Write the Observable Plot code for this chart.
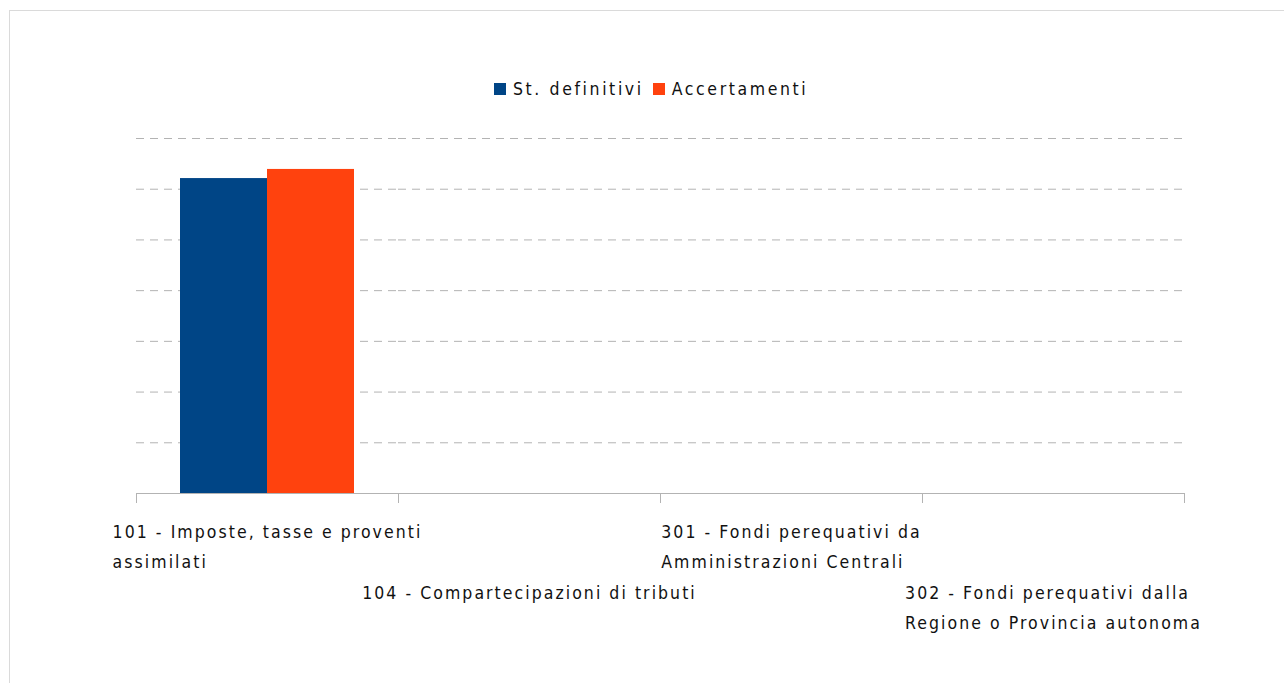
<!DOCTYPE html>
<html>
<head>
<meta charset="utf-8">
<script src="https://cdn.jsdelivr.net/npm/d3@7"></script>
<script src="https://cdn.jsdelivr.net/npm/@observablehq/plot@0.6"></script>
<style>
  html, body { margin: 0; padding: 0; background: #fff; }
  #page { position: relative; width: 1284px; height: 683px; overflow: hidden; font-family: "DejaVu Sans Condensed", "DejaVu Sans", sans-serif; }
  #frame { position: absolute; left: 9px; top: 10px; width: 1290px; height: 700px; border-left: 1px solid #dadada; border-top: 1px solid #dadada; }
  #legend { position: absolute; top: 79px; left: 494px; display: flex; align-items: center; font-size: 17.5px; color: #111; white-space: nowrap; letter-spacing: 2.6px; }
  #legend .sw { display: inline-block; width: 12px; height: 12px; margin-right: 7px; }
  #legend .item { display: flex; align-items: center; margin-right: 9px; }
  #chart { position: absolute; left: 0; top: 110px; }
</style>
</head>
<body>
<div id="page">
  <div id="frame"></div>
  <div id="legend"></div>
  <div id="chart"></div>
</div>
<script>
// ---- data ----
const categories = ["101", "104", "301", "302"];
const categoryLabels = [
  "101 - Imposte, tasse e proventi\nassimilati",
  "104 - Compartecipazioni di tributi",
  "301 - Fondi perequativi da\nAmministrazioni Centrali",
  "302 - Fondi perequativi dalla\nRegione o Provincia autonoma"
];
const labelRows = [0, 1, 0, 1];
const series = ["St. definitivi", "Accertamenti"];
const seriesColors = ["#004586", "#ff420e"];
const stDefinitivi = [6.21, 0, 0, 0];
const accertamenti = [6.39, 0, 0, 0];
const gridTicks = [1, 2, 3, 4, 5, 6, 7];

const seriesValues = [stDefinitivi, accertamenti];
const data = categories.flatMap((c, i) =>
  series.map((s, j) => ({category: c, series: s, value: seriesValues[j][i]}))
);
const labelData = categories.map((c, i) => ({category: c, label: categoryLabels[i], row: labelRows[i]}));

// ---- legend ----
const legend = document.getElementById("legend");
series.forEach((s, j) => {
  const item = document.createElement("span");
  item.className = "item";
  const sw = document.createElement("span");
  sw.className = "sw";
  sw.style.background = seriesColors[j];
  item.appendChild(sw);
  item.appendChild(document.createTextNode(s));
  legend.appendChild(item);
});

// ---- chart ----
const fontFamily = "'DejaVu Sans Condensed', 'DejaVu Sans', sans-serif";
const labelStyle = {
  fx: "category", text: "label", frameAnchor: "bottom", lineAnchor: "top",
  textAnchor: "start", fontSize: 17.5, lineHeight: 1.73, fill: "#111", fontFamily
};
const plot = Plot.plot({
  width: 1284,
  height: 573,
  marginLeft: 134,
  marginRight: 99,
  marginTop: 28,
  marginBottom: 190,
  fx: {domain: categories, padding: 0, axis: null},
  x: {domain: series, paddingInner: 0, paddingOuter: 0.5, axis: null},
  y: {domain: [0, 7], axis: null},
  color: {domain: series, range: seriesColors},
  marks: [
    Plot.gridY(gridTicks, {stroke: "#b3b3b3", strokeOpacity: 1, strokeDasharray: "8,6"}),
    Plot.barY(data, {fx: "category", x: "series", y: "value", fill: "series"}),
    Plot.ruleY([0], {stroke: "#b3b3b3"}),
    Plot.text(labelData.filter(d => d.row === 0), {...labelStyle, dy: 23}),
    Plot.text(labelData.filter(d => d.row === 1), {...labelStyle, dy: 84})
  ]
});
plot.style.overflow = "visible";
document.getElementById("chart").appendChild(plot);

// boundary ticks along the category axis, from the library's fx scale
const fx = plot.scale("fx");
const y0 = plot.scale("y").apply(0);
const bounds = categories.map(c => fx.apply(c));
bounds.push(fx.apply(categories[categories.length - 1]) + fx.bandwidth);
const svg = d3.select(plot);
svg.append("g").attr("class", "bound-ticks")
  .selectAll("line").data(bounds).join("line")
  .attr("x1", d => d + 0.5).attr("x2", d => d + 0.5)
  .attr("y1", y0).attr("y2", y0 + 10)
  .attr("stroke", "#b3b3b3");

// center each label block on its category, keeping lines left-aligned
svg.selectAll('g[aria-label="text"] text').each(function () {
  this.style.letterSpacing = "2.05px";
  const w = this.getBBox().width;
  const t = this.getAttribute("transform") || "";
  this.setAttribute("transform", t + ` translate(${-w / 2},0)`);
});
</script>
</body>
</html>
